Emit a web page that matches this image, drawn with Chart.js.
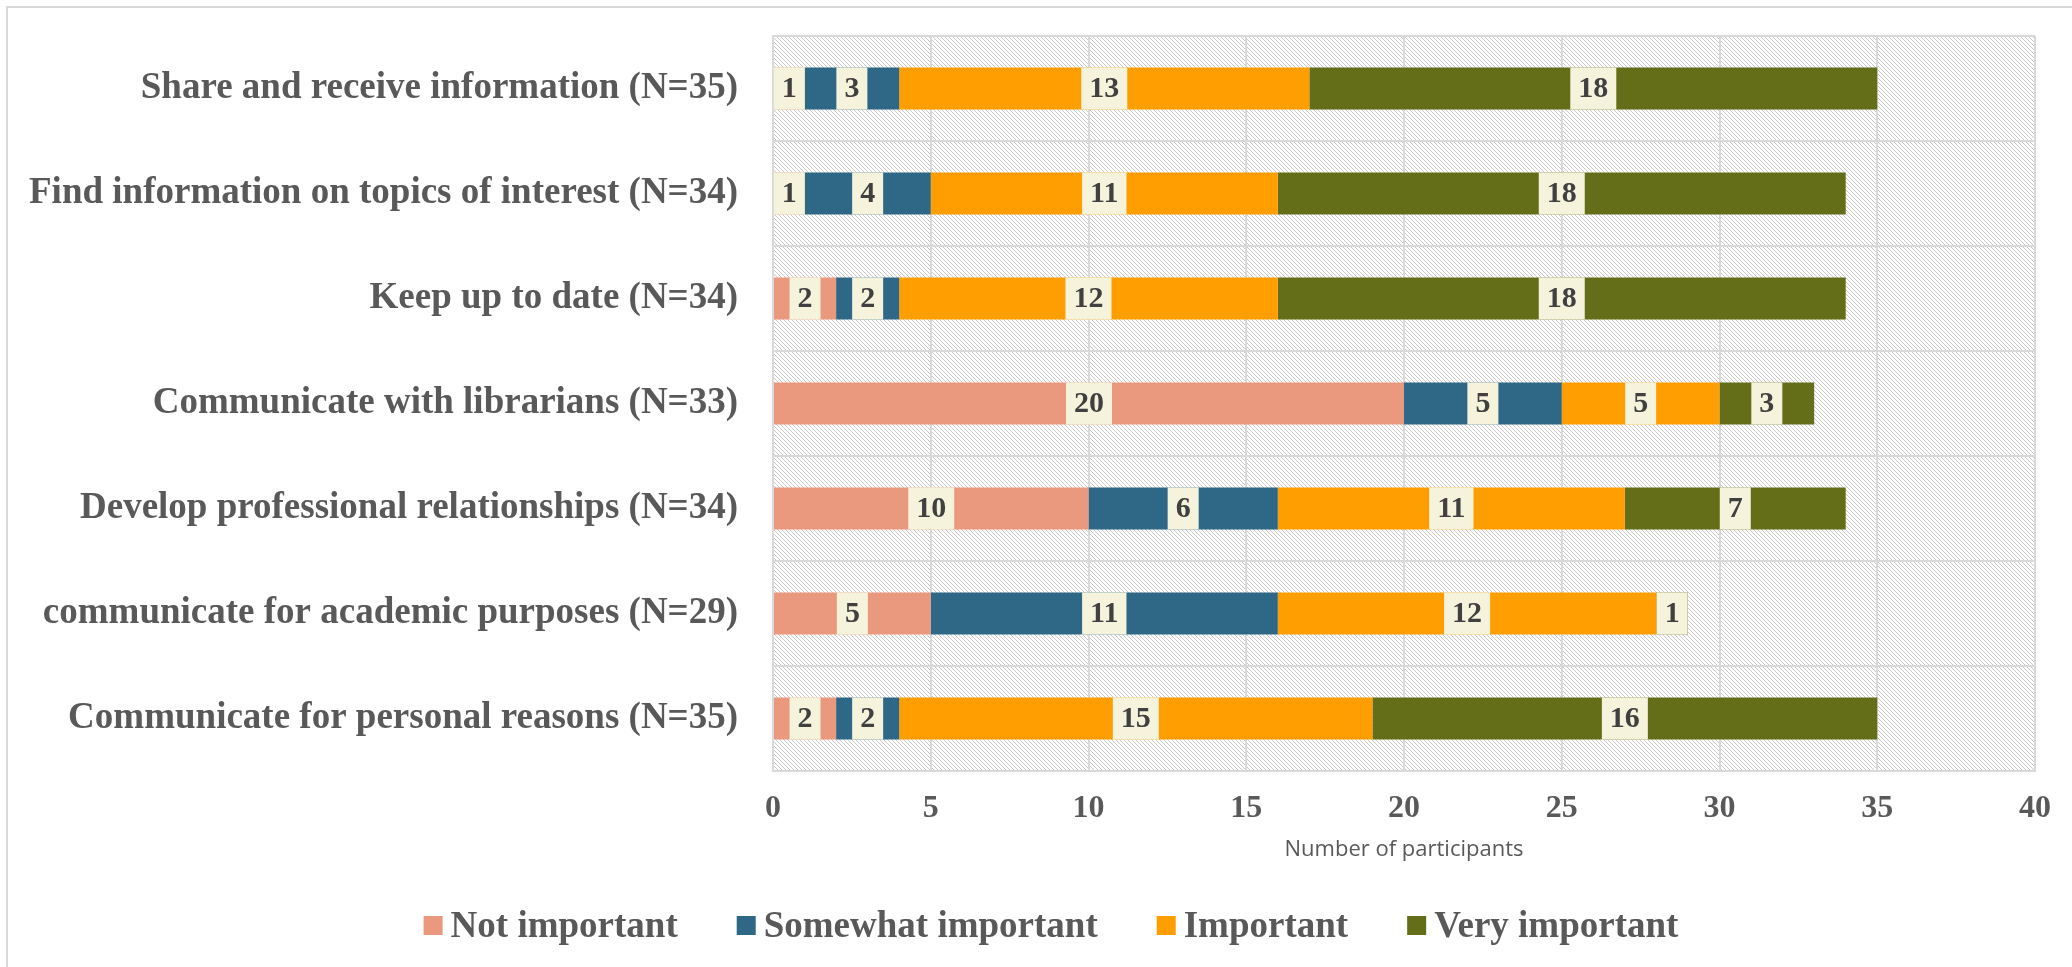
<!DOCTYPE html>
<html>
<head>
<meta charset="utf-8">
<title>Importance of uses</title>
<script src="https://cdn.jsdelivr.net/npm/chart.js@4.4.1/dist/chart.umd.min.js"></script>
<style>
  html, body { margin: 0; padding: 0; background: #ffffff; }
  canvas { display: block; }
</style>
</head>
<body>
<canvas id="chart" width="2072" height="967"></canvas>
<script>
// Survey purposes, top to bottom
const categories = [
  'Share and receive information (N=35)',
  'Find information on topics of interest (N=34)',
  'Keep up to date (N=34)',
  'Communicate with librarians (N=33)',
  'Develop professional relationships (N=34)',
  'communicate for academic purposes (N=29)',
  'Communicate for personal reasons (N=35)'
];

// Participant counts per importance level
const notImportant      = [1, 1, 2, 20, 10, 5, 2];
const somewhatImportant = [3, 4, 2, 5, 6, 11, 2];
const important         = [13, 11, 12, 5, 11, 12, 15];
const veryImportant     = [18, 18, 18, 3, 7, 1, 16];

const seriesNames  = ['Not important', 'Somewhat important', 'Important', 'Very important'];
const seriesColors = ['#EA987E', '#2F6886', '#FF9E01', '#646E19'];

const xTicks = [0, 5, 10, 15, 20, 25, 30, 35, 40];
const xTitle = 'Number of participants';

const SERIF = "'Liberation Serif', 'Times New Roman', serif";
const SANS  = "'Open Sans', 'Noto Sans', sans-serif";
const TEXT_GREY = '#595959';
const GRID_GREY = '#D9D9D9';

// Diagonal hatch used as the plot-area fill
function makeHatch(ctx) {
  const tile = document.createElement('canvas');
  tile.width = 4; tile.height = 4;
  const t = tile.getContext('2d');
  t.fillStyle = '#ffffff';
  t.fillRect(0, 0, 4, 4);
  t.fillStyle = '#C9C9C9';
  for (let i = 0; i < 4; i++) t.fillRect(i, i, 1, 1);
  return ctx.createPattern(tile, 'repeat');
}

const plotBackground = {
  id: 'plotBackground',
  beforeDraw(chart) {
    const { ctx, chartArea: a } = chart;
    ctx.save();
    // outer frame (top and left edges visible)
    ctx.strokeStyle = GRID_GREY;
    ctx.lineWidth = 2;
    ctx.beginPath();
    ctx.moveTo(7, chart.height + 5);
    ctx.lineTo(7, 7);
    ctx.lineTo(chart.width + 5, 7);
    ctx.stroke();
    ctx.fillStyle = makeHatch(ctx);
    ctx.fillRect(a.left, a.top, a.right - a.left, a.bottom - a.top);
    ctx.restore();
  }
};

// Value boxes centred on each segment
const valueBoxes = {
  id: 'valueBoxes',
  afterDatasetsDraw(chart) {
    const { ctx } = chart;
    ctx.save();
    ctx.font = 'bold 30px ' + SERIF;
    ctx.textAlign = 'center';
    ctx.textBaseline = 'middle';
    chart.data.datasets.forEach((ds, di) => {
      const meta = chart.getDatasetMeta(di);
      meta.data.forEach((bar, i) => {
        const v = ds.data[i];
        if (!v) return;
        const text = String(v);
        const w = ctx.measureText(text).width + 16;
        const h = bar.height;
        const cx = (bar.x + bar.base) / 2;
        ctx.fillStyle = '#F5F3DC';
        ctx.fillRect(cx - w / 2, bar.y - h / 2, w, h);
        ctx.fillStyle = '#404040';
        ctx.fillText(text, cx, bar.y + 1);
      });
    });
    ctx.restore();
  }
};

// Legend row under the axis title
const bottomLegend = {
  id: 'bottomLegend',
  afterDraw(chart, args, opts) {
    const { ctx } = chart;
    const box = 19, gap = 8, spacing = 59;
    ctx.save();
    ctx.font = 'bold 37px ' + SERIF;
    ctx.textBaseline = 'alphabetic';
    ctx.textAlign = 'left';
    const items = chart.data.datasets.map(ds => ({
      text: ds.label, color: ds.backgroundColor, w: ctx.measureText(ds.label).width
    }));
    const total = items.reduce((s, it) => s + box + gap + it.w, 0) + spacing * (items.length - 1);
    let x = opts.centerX - total / 2;
    items.forEach(it => {
      ctx.fillStyle = it.color;
      ctx.fillRect(x, opts.baseline - 21, box, box);
      ctx.fillStyle = TEXT_GREY;
      ctx.fillText(it.text, x + box + gap, opts.baseline);
      x += box + gap + it.w + spacing;
    });
    ctx.restore();
  }
};

const seriesData = [notImportant, somewhatImportant, important, veryImportant];

new Chart(document.getElementById('chart'), {
  type: 'bar',
  data: {
    labels: categories,
    datasets: seriesNames.map((name, k) => ({
      label: name,
      data: seriesData[k],
      backgroundColor: seriesColors[k],
      borderWidth: 0,
      categoryPercentage: 1,
      barPercentage: 0.4
    }))
  },
  options: {
    indexAxis: 'y',
    responsive: false,
    devicePixelRatio: 1,
    animation: false,
    layout: { padding: { top: 36, right: 37, bottom: 96, left: 0 } },
    scales: {
      x: {
        stacked: true,
        min: 0,
        max: 40,
        afterBuildTicks(scale) { scale.ticks = xTicks.map(v => ({ value: v })); },
        afterFit(scale) { scale.height = 100; },
        grid: { color: GRID_GREY, lineWidth: 2, drawTicks: false },
        border: { color: GRID_GREY, width: 2 },
        ticks: {
          padding: 19,
          color: TEXT_GREY,
          font: { family: SERIF, size: 32, weight: 'bold' }
        },
        title: {
          display: true,
          text: xTitle,
          color: TEXT_GREY,
          padding: { top: 0, bottom: 8 },
          font: { family: SANS, size: 22 }
        }
      },
      y: {
        stacked: true,
        afterFit(scale) {
          scale.width = 773;
          scale.paddingTop = 0;
          scale.paddingBottom = 0;
        },
        grid: { color: GRID_GREY, lineWidth: 2, drawTicks: false, offset: true },
        border: { color: GRID_GREY, width: 2 },
        ticks: {
          padding: 35,
          color: TEXT_GREY,
          font: { family: SERIF, size: 37, weight: 'bold' }
        }
      }
    },
    plugins: {
      legend: { display: false },
      tooltip: { enabled: false },
      bottomLegend: { centerX: 1051, baseline: 937 }
    }
  },
  plugins: [plotBackground, valueBoxes, bottomLegend]
});
</script>
</body>
</html>
